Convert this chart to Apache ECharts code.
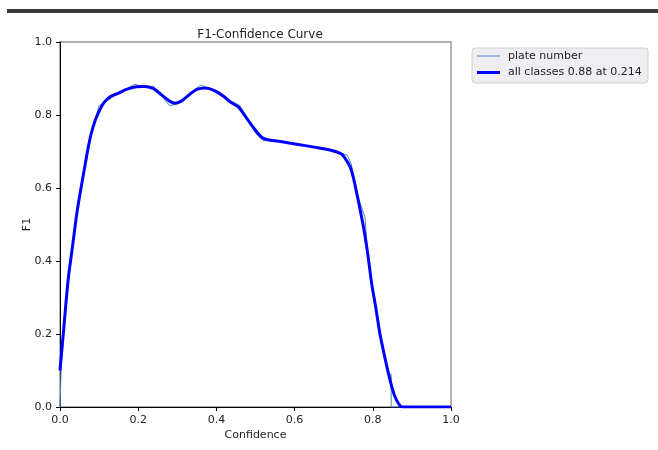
<!DOCTYPE html>
<html>
<head>
<meta charset="utf-8">
<script src="https://cdn.jsdelivr.net/npm/echarts@6/dist/echarts.min.js"></script>
<style>
  html, body { margin: 0; padding: 0; background: #fff; }
  #chart { width: 658px; height: 450px; }
</style>
</head>
<body>
<div id="chart"></div>
<script>
// all classes (smoothed) curve
const allConf = [0, 0.01, 0.021, 0.032, 0.043, 0.053, 0.062, 0.072, 0.08, 0.09, 0.1, 0.111, 0.128, 0.15, 0.17, 0.192, 0.215, 0.239, 0.26, 0.28, 0.294, 0.31, 0.332, 0.35, 0.371, 0.395, 0.42, 0.435, 0.456, 0.469, 0.485, 0.5, 0.52, 0.56, 0.605, 0.65, 0.69, 0.72, 0.73, 0.742, 0.75, 0.761, 0.776, 0.787, 0.797, 0.808, 0.818, 0.83, 0.844, 0.856, 0.87, 0.88, 1.0];
const allF1 = [0.1, 0.22, 0.35, 0.44, 0.53, 0.595, 0.65, 0.71, 0.75, 0.785, 0.81, 0.832, 0.85, 0.86, 0.87, 0.877, 0.878, 0.872, 0.855, 0.838, 0.832, 0.838, 0.857, 0.87, 0.874, 0.867, 0.85, 0.836, 0.822, 0.804, 0.78, 0.758, 0.736, 0.728, 0.72, 0.712, 0.704, 0.693, 0.68, 0.658, 0.63, 0.575, 0.494, 0.42, 0.339, 0.27, 0.202, 0.14, 0.074, 0.03, 0.003, 0, 0];

// plate number (raw) curve
const plateConf = [0, 0.003, 0.021, 0.043, 0.062, 0.08, 0.1, 0.111, 0.15, 0.192, 0.215, 0.239, 0.26, 0.28, 0.292, 0.31, 0.34, 0.36, 0.395, 0.41, 0.435, 0.46, 0.485, 0.5, 0.52, 0.56, 0.605, 0.65, 0.69, 0.72, 0.735, 0.745, 0.761, 0.78, 0.787, 0.797, 0.818, 0.84, 0.847, 0.847, 1.0];
const plateF1 = [0, 0.11, 0.35, 0.53, 0.65, 0.75, 0.826, 0.832, 0.86, 0.884, 0.876, 0.879, 0.852, 0.826, 0.828, 0.836, 0.866, 0.882, 0.867, 0.862, 0.84, 0.826, 0.782, 0.75, 0.73, 0.728, 0.72, 0.712, 0.704, 0.695, 0.69, 0.665, 0.58, 0.52, 0.42, 0.34, 0.2, 0.09, 0.09, 0, 0];

const ticks = [0, 0.2, 0.4, 0.6, 0.8, 1.0];
const legendNames = ["plate number", "all classes 0.88 at 0.214"];

const allData = allConf.map((c, i) => [c, allF1[i]]);
const plateData = plateConf.map((c, i) => [c, plateF1[i]]);

const chart = echarts.init(document.getElementById("chart"));

const axisCommon = {
  type: "value",
  min: ticks[0],
  max: ticks[ticks.length - 1],
  interval: 0.2,
  splitLine: { show: false },
  axisLine: { show: true, lineStyle: { color: "#000", width: 1 } },
  axisTick: { show: true, length: 4, lineStyle: { color: "#000" } },
  axisLabel: {
    color: "#222",
    fontSize: 11,
    fontFamily: "DejaVu Sans",
    formatter: (v) => v.toFixed(1),
  },
  nameLocation: "middle",
  nameMoveOverlap: false,
  nameTextStyle: { color: "#222", fontSize: 11, fontFamily: "DejaVu Sans" },
};

const legendFont = "11px DejaVu Sans";

const option = {
  animation: false,
  title: {
    text: "F1-Confidence Curve",
    left: 255,
    top: 24,
    textAlign: "center",
    textStyle: { fontSize: 12, fontWeight: "normal", color: "#222", fontFamily: "DejaVu Sans" },
  },
  grid: {
    left: 60,
    top: 42,
    width: 391,
    height: 365,
    show: true,
    borderColor: "#999",
    borderWidth: 1.5,
  },
  xAxis: Object.assign({}, axisCommon, { name: "Confidence", nameGap: 23 }),
  yAxis: Object.assign({}, axisCommon, { name: "F1", nameGap: 27 }),
  graphic: [
    { type: "rect", shape: { x: 7, y: 9, width: 651, height: 4 }, style: { fill: "#3a3a3a" } },
    // legend box
    {
      type: "rect",
      shape: { x: 472, y: 48, width: 176, height: 35, r: 3 },
      style: { fill: "#eeeef3", stroke: "#d0d0d0", lineWidth: 1 },
    },
    { type: "line", shape: { x1: 477, y1: 56, x2: 500, y2: 56 }, style: { stroke: "#4c86c0", lineWidth: 1 } },
    { type: "line", shape: { x1: 477, y1: 72.5, x2: 500, y2: 72.5 }, style: { stroke: "#0000ff", lineWidth: 3 } },
    {
      type: "text", x: 508, y: 56,
      style: { text: legendNames[0], font: legendFont, fill: "#222", textVerticalAlign: "middle" },
    },
    {
      type: "text", x: 508, y: 72.5,
      style: { text: legendNames[1], font: legendFont, fill: "#222", textVerticalAlign: "middle" },
    },
  ],
  series: [
    {
      name: legendNames[0],
      type: "line",
      data: plateData,
      symbol: "none",
      lineStyle: { color: "#4c86c0", width: 1 },
      itemStyle: { color: "#4c86c0" },
      z: 2,
    },
    {
      name: legendNames[1],
      type: "line",
      data: allData,
      symbol: "none",
      smooth: 0.3,
      lineStyle: { color: "#0000ff", width: 3 },
      itemStyle: { color: "#0000ff" },
      z: 3,
    },
  ],
};

chart.setOption(option);
</script>
</body>
</html>
